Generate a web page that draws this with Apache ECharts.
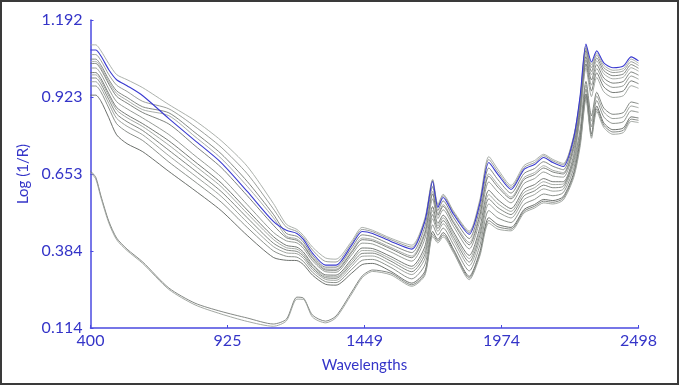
<!DOCTYPE html>
<html>
<head>
<meta charset="utf-8">
<script src="https://cdn.jsdelivr.net/npm/echarts@6/dist/echarts.min.js"></script>
<style>
html,body{margin:0;padding:0;background:#fff;}
#chart{width:679px;height:385px;}
</style>
</head>
<body>
<div id="chart"></div>
<script>
// Wavelengths (nm) at which the spectra are sampled
const wavelengths = [400,420,440,470,500,540,600,700,800,900,1000,1100,1150,1190,1215,1250,1300,1340,1400,1440,1480,1550,1630,1680,1710,1730,1750,1790,1850,1890,1925,1960,2010,2060,2100,2135,2170,2210,2250,2275,2297,2318,2338,2365,2400,2440,2470,2498];

// Log(1/R) spectra
const spectrumBlue = [1.087,1.087,1.066,1.018,0.983,0.962,0.927,0.847,0.770,0.693,0.592,0.487,0.456,0.445,0.424,0.376,0.334,0.334,0.404,0.452,0.445,0.417,0.390,0.487,0.627,0.536,0.571,0.512,0.442,0.547,0.693,0.651,0.599,0.669,0.686,0.711,0.693,0.679,0.780,0.930,1.108,1.045,1.084,1.042,1.025,1.031,1.063,1.049];
const spectrum01 = [1.105,1.105,1.084,1.039,1.001,0.983,0.955,0.896,0.840,0.770,0.680,0.550,0.477,0.459,0.438,0.397,0.359,0.355,0.418,0.466,0.456,0.428,0.404,0.498,0.634,0.547,0.582,0.523,0.453,0.561,0.714,0.669,0.613,0.683,0.700,0.722,0.704,0.690,0.787,0.924,1.101,1.035,1.076,1.034,1.016,1.022,1.055,1.041];
const spectrum02 = [1.071,1.071,1.050,1.001,0.964,0.942,0.907,0.881,0.819,0.747,0.654,0.531,0.467,0.452,0.431,0.387,0.347,0.345,0.411,0.459,0.451,0.423,0.397,0.493,0.631,0.542,0.577,0.518,0.448,0.554,0.704,0.660,0.606,0.676,0.693,0.717,0.699,0.685,0.784,0.917,1.094,1.025,1.069,1.025,1.008,1.014,1.046,1.033];
const spectrum03 = [1.055,1.055,1.034,0.984,0.944,0.921,0.888,0.867,0.798,0.724,0.627,0.512,0.445,0.435,0.415,0.368,0.327,0.327,0.394,0.440,0.434,0.406,0.378,0.469,0.609,0.525,0.559,0.500,0.427,0.530,0.674,0.633,0.586,0.655,0.672,0.696,0.680,0.668,0.768,0.909,1.085,1.012,1.059,1.015,0.997,1.003,1.036,1.023];
const spectrum04 = [1.047,1.047,1.026,0.976,0.935,0.911,0.878,0.857,0.784,0.708,0.610,0.500,0.435,0.426,0.406,0.361,0.321,0.320,0.384,0.429,0.424,0.396,0.366,0.452,0.592,0.514,0.546,0.487,0.413,0.513,0.654,0.616,0.572,0.641,0.658,0.682,0.666,0.658,0.755,0.902,1.076,1.000,1.049,1.004,0.986,0.992,1.025,1.013];
const spectrum05 = [1.040,1.040,1.019,0.968,0.925,0.901,0.868,0.828,0.752,0.676,0.577,0.474,0.430,0.421,0.402,0.357,0.317,0.316,0.379,0.423,0.419,0.391,0.360,0.443,0.583,0.508,0.540,0.481,0.405,0.505,0.645,0.607,0.566,0.634,0.651,0.674,0.660,0.653,0.749,0.890,1.064,0.982,1.036,0.989,0.971,0.977,1.010,0.999];
const spectrum06 = [1.024,1.024,1.003,0.951,0.906,0.881,0.849,0.791,0.717,0.643,0.546,0.449,0.419,0.412,0.393,0.349,0.311,0.309,0.370,0.411,0.408,0.380,0.348,0.426,0.566,0.497,0.528,0.469,0.391,0.488,0.625,0.590,0.552,0.620,0.637,0.660,0.646,0.642,0.737,0.879,1.052,0.964,1.022,0.975,0.956,0.962,0.996,0.985];
const spectrum07 = [1.008,1.008,0.987,0.934,0.886,0.860,0.829,0.769,0.696,0.622,0.527,0.434,0.403,0.397,0.380,0.337,0.300,0.299,0.355,0.394,0.392,0.364,0.330,0.399,0.539,0.480,0.509,0.450,0.368,0.463,0.596,0.563,0.532,0.599,0.616,0.637,0.626,0.626,0.718,0.867,1.038,0.944,1.007,0.958,0.938,0.944,0.979,0.969];
const spectrum08 = [1.000,1.000,0.979,0.926,0.877,0.850,0.819,0.754,0.682,0.609,0.515,0.424,0.395,0.390,0.373,0.331,0.295,0.293,0.347,0.385,0.384,0.356,0.321,0.385,0.525,0.471,0.500,0.441,0.357,0.450,0.581,0.549,0.522,0.588,0.605,0.626,0.616,0.618,0.709,0.854,1.024,0.924,0.991,0.941,0.921,0.927,0.962,0.953];
const spectrum09 = [0.989,0.989,0.968,0.914,0.863,0.836,0.805,0.736,0.665,0.592,0.500,0.411,0.387,0.382,0.366,0.325,0.290,0.288,0.339,0.375,0.376,0.348,0.311,0.371,0.511,0.462,0.490,0.431,0.345,0.436,0.566,0.535,0.511,0.577,0.594,0.614,0.605,0.610,0.699,0.811,0.977,0.856,0.939,0.884,0.862,0.868,0.905,0.899];
const spectrum10 = [0.976,0.976,0.955,0.900,0.848,0.820,0.790,0.717,0.647,0.575,0.484,0.399,0.377,0.374,0.358,0.318,0.284,0.281,0.330,0.365,0.366,0.338,0.301,0.356,0.496,0.452,0.479,0.420,0.332,0.421,0.548,0.520,0.499,0.564,0.581,0.601,0.593,0.600,0.688,0.800,0.964,0.838,0.926,0.870,0.847,0.853,0.891,0.885];
const spectrum11 = [0.961,0.961,0.940,0.884,0.829,0.800,0.770,0.695,0.626,0.555,0.466,0.384,0.365,0.362,0.347,0.309,0.276,0.273,0.319,0.351,0.354,0.326,0.286,0.335,0.475,0.439,0.464,0.405,0.314,0.401,0.525,0.499,0.483,0.547,0.564,0.583,0.577,0.588,0.673,0.788,0.950,0.818,0.910,0.853,0.830,0.836,0.874,0.869];
const spectrum12 = [0.929,0.929,0.908,0.850,0.790,0.759,0.731,0.662,0.595,0.525,0.438,0.361,0.351,0.350,0.336,0.299,0.267,0.264,0.306,0.336,0.340,0.312,0.271,0.312,0.452,0.424,0.448,0.389,0.295,0.379,0.500,0.476,0.466,0.529,0.546,0.564,0.560,0.574,0.657,0.772,0.933,0.793,0.891,0.832,0.808,0.814,0.853,0.849];
const spectrumLow1 = [0.663,0.642,0.576,0.488,0.429,0.390,0.345,0.254,0.201,0.172,0.149,0.128,0.145,0.222,0.219,0.159,0.138,0.156,0.240,0.296,0.317,0.306,0.265,0.304,0.442,0.418,0.440,0.383,0.289,0.371,0.490,0.468,0.460,0.523,0.540,0.558,0.554,0.568,0.649,0.762,0.923,0.785,0.881,0.824,0.800,0.806,0.845,0.841];
const spectrumLow2 = [0.658,0.636,0.570,0.482,0.423,0.385,0.340,0.249,0.195,0.163,0.137,0.120,0.139,0.215,0.214,0.152,0.132,0.150,0.233,0.290,0.312,0.300,0.260,0.298,0.434,0.412,0.433,0.377,0.283,0.364,0.481,0.460,0.454,0.517,0.534,0.552,0.548,0.562,0.641,0.752,0.913,0.778,0.872,0.816,0.792,0.798,0.837,0.833];

// Axis ticks
const xTickValues = [400, 924.5, 1449, 1973.5, 2498];
const xTickLabels = ['400', '925', '1449', '1974', '2498'];
const yTickValues = [0.114, 0.3835, 0.653, 0.9225, 1.192];
const yTickLabels = ['0.114', '0.384', '0.653', '0.923', '1.192'];

const graySpectra = [spectrum01, spectrum02, spectrum03, spectrum04, spectrum05, spectrum06, spectrum07, spectrum08, spectrum09, spectrum10, spectrum11, spectrum12, spectrumLow1, spectrumLow2];
const grayColors = ['#a3a8a3', '#8e938e', '#767b76', '#a0a5a0', '#6f746f', '#8a8f8a', '#666b66', '#9a9f9a', '#737873', '#939893', '#7f847f', '#5c615c', '#767b76', '#999e99'];

const blue = '#3434c8';
const font = 'Lato, "Open Sans", sans-serif';

function toPairs(arr) { return wavelengths.map((w, i) => [w, arr[i]]); }

const series = graySpectra.map((arr, i) => ({
  type: 'line', data: toPairs(arr), showSymbol: false, smooth: 0.25,
  lineStyle: { color: grayColors[i], width: 0.9 }, z: 2, silent: true
}));
series.push({
  type: 'line', data: toPairs(spectrumBlue), showSymbol: false, smooth: 0.25,
  lineStyle: { color: '#3a3ad0', width: 1.1 }, z: 3, silent: true
});

const chart = echarts.init(document.getElementById('chart'), null, { renderer: 'canvas' });
chart.setOption({
  animation: false,
  backgroundColor: '#ffffff',
  grid: { left: 90.5, right: 40.5, top: 20, bottom: 57 },
  graphic: [{
    type: 'rect', shape: { x: 1, y: 1, width: 677, height: 383 },
    style: { fill: 'none', stroke: '#3a3a3a', lineWidth: 2 }, silent: true
  }],
  xAxis: {
    type: 'value', min: 400, max: 2498,
    name: 'Wavelengths', nameLocation: 'middle', nameGap: 30,
    nameTextStyle: { color: blue, fontSize: 15, fontFamily: font },
    axisLine: { show: true, lineStyle: { color: '#4a4ae0', width: 1.5 } },
    axisTick: { show: true, inside: true, length: 3, customValues: xTickValues, lineStyle: { color: '#4a4ae0' } },
    axisLabel: {
      customValues: xTickValues, color: blue, fontSize: 16, fontFamily: font, margin: 5,
      formatter: v => xTickLabels[xTickValues.indexOf(v)]
    },
    splitLine: { show: false }
  },
  yAxis: {
    type: 'value', min: 0.114, max: 1.192,
    name: 'Log (1/R)', nameLocation: 'middle', nameGap: 54, nameRotate: 90,
    nameTextStyle: { color: blue, fontSize: 15, fontFamily: font },
    axisLine: { show: true, lineStyle: { color: '#4a4ae0', width: 1.5 } },
    axisTick: { show: true, inside: true, length: 3, customValues: yTickValues, lineStyle: { color: '#4a4ae0' } },
    axisLabel: {
      customValues: yTickValues, color: blue, fontSize: 16, fontFamily: font, margin: 8,
      formatter: v => yTickLabels[yTickValues.indexOf(v)]
    },
    splitLine: { show: false }
  },
  series: series
});
</script>
</body>
</html>
